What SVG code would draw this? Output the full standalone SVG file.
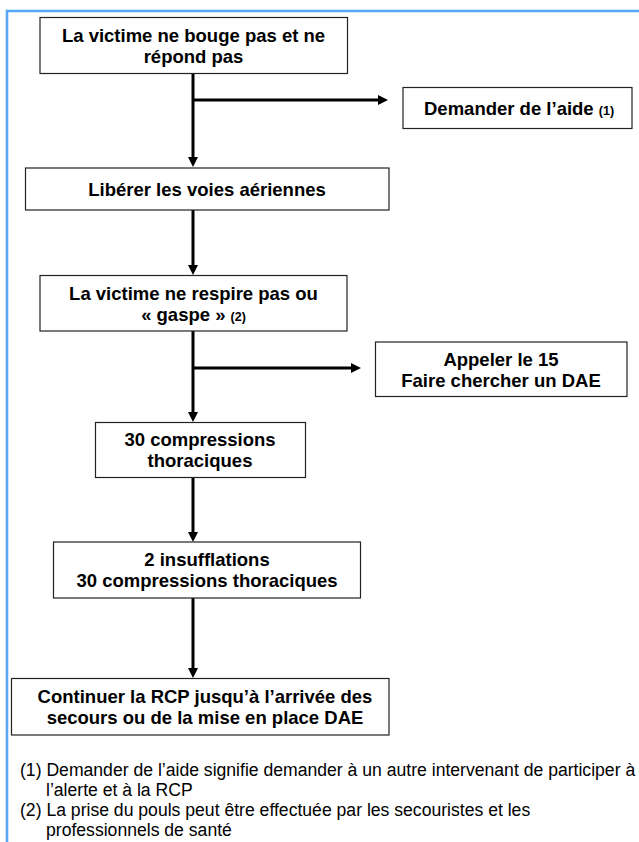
<svg xmlns="http://www.w3.org/2000/svg" width="639" height="842" viewBox="0 0 639 842">
<defs>
<style>
.box{fill:#fff;stroke:#222;stroke-width:1.2}
.t{font-family:"Liberation Sans",Arial,sans-serif;font-weight:bold;font-size:18.5px;fill:#000;text-anchor:middle}
.ts{text-anchor:start}
.s{font-size:12.5px}
.fn{font-family:"Liberation Sans",Arial,sans-serif;font-size:17.6px;fill:#000}
.c{stroke:#000;stroke-width:3;fill:none}
.frame{stroke:#58a8f8;stroke-width:2.6;fill:none}
</style>
<marker id="ah" markerUnits="userSpaceOnUse" markerWidth="10" markerHeight="10" refX="0" refY="5" orient="auto">
<path d="M0,0 L10,5 L0,10 z" fill="#000"/>
</marker>
</defs>
<rect width="639" height="842" fill="#fff"/>
<path class="frame" d="M7,842 V11 H639"/>
<g id="connectors">
<path class="c" d="M193,73 V157" marker-end="url(#ah)"/>
<path class="c" d="M193,100 H378" marker-end="url(#ah)"/>
<path class="c" d="M193,210 V265" marker-end="url(#ah)"/>
<path class="c" d="M193,331 V412" marker-end="url(#ah)"/>
<path class="c" d="M193,368 H351" marker-end="url(#ah)"/>
<path class="c" d="M193,478 V532" marker-end="url(#ah)"/>
<path class="c" d="M193,598 V668" marker-end="url(#ah)"/>
</g>
<g id="n1">
<rect class="box" x="40" y="17.5" width="307.5" height="56"/>
<text class="t" x="193.5" y="41.5">La victime ne bouge pas et ne</text>
<text class="t" x="193.5" y="62.5">répond pas</text>
</g>
<g id="n2">
<rect class="box" x="403" y="87.5" width="229" height="41"/>
<text class="t ts" x="424" y="114.5">Demander de l’aide <tspan class="s">(1)</tspan></text>
</g>
<g id="n3">
<rect class="box" x="25.5" y="168" width="363.5" height="42"/>
<text class="t" x="207" y="195.5">Libérer les voies aériennes</text>
</g>
<g id="n4">
<rect class="box" x="40" y="275.5" width="307" height="55.5"/>
<text class="t" x="193.5" y="299.5">La victime ne respire pas ou</text>
<text class="t" x="193.5" y="320.5">« gaspe » <tspan class="s">(2)</tspan></text>
</g>
<g id="n5">
<rect class="box" x="375.5" y="342" width="251.5" height="54.5"/>
<text class="t" x="501" y="365.5">Appeler le 15</text>
<text class="t" x="501" y="386.5">Faire chercher un DAE</text>
</g>
<g id="n6">
<rect class="box" x="95.5" y="422.5" width="210" height="55"/>
<text class="t" x="200" y="446">30 compressions</text>
<text class="t" x="200" y="467">thoraciques</text>
</g>
<g id="n7">
<rect class="box" x="53.5" y="542" width="307" height="56"/>
<text class="t" x="207" y="566">2 insufflations</text>
<text class="t" x="207" y="587">30 compressions thoraciques</text>
</g>
<g id="n8">
<rect class="box" x="11.5" y="678.5" width="377.5" height="56.5"/>
<text class="t" x="205" y="702.5">Continuer la RCP jusqu’à l’arrivée des</text>
<text class="t" x="205" y="723.5">secours ou de la mise en place DAE</text>
</g>
<g id="notes">
<text class="fn" x="20" y="776">(1) Demander de l’aide signifie demander à un autre intervenant de participer à</text>
<text class="fn" x="46" y="796">l’alerte et à la RCP</text>
<text class="fn" x="20" y="816">(2) La prise du pouls peut être effectuée par les secouristes et les</text>
<text class="fn" x="46" y="836">professionnels de santé</text>
</g>
</svg>
